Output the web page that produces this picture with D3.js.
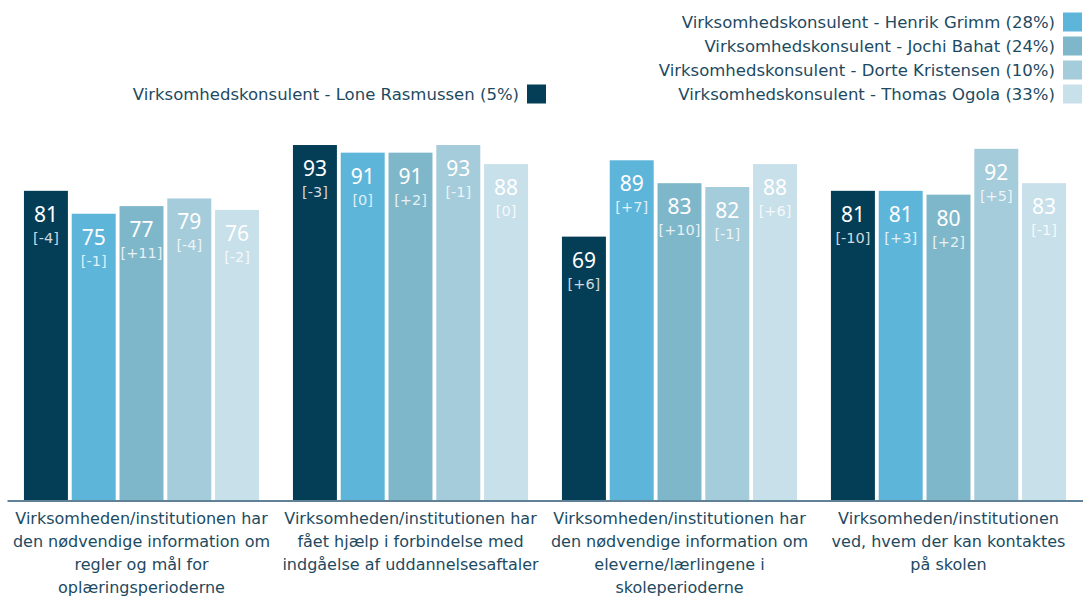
<!DOCTYPE html>
<html>
<head>
<meta charset="utf-8">
<script src="https://cdn.jsdelivr.net/npm/d3@7"></script>
<style>
  body { margin: 0; background: #fff; }
  svg { display: block; font-family: "DejaVu Sans", "Noto Sans", sans-serif; }
</style>
</head>
<body>
<svg id="chart"></svg>
<script>
var width = 1083, height = 596;

// categories (wrapped into lines as in the picture)
var categories = ["q1", "q2", "q3", "q4"];
var category_lines = [
    ["Virksomheden/institutionen har", "den nødvendige information om", "regler og mål for", "oplæringsperioderne"],
    ["Virksomheden/institutionen har", "fået hjælp i forbindelse med", "indgåelse af uddannelsesaftaler"],
    ["Virksomheden/institutionen har", "den nødvendige information om", "eleverne/lærlingene i", "skoleperioderne"],
    ["Virksomheden/institutionen", "ved, hvem der kan kontaktes", "på skolen"]
];

var series = [
    "Virksomhedskonsulent - Lone Rasmussen (5%)",
    "Virksomhedskonsulent - Henrik Grimm (28%)",
    "Virksomhedskonsulent - Jochi Bahat (24%)",
    "Virksomhedskonsulent - Dorte Kristensen (10%)",
    "Virksomhedskonsulent - Thomas Ogola (33%)"
];
var colors = ["#043d56", "#5db5da", "#7fb7ca", "#a5ccda", "#c8e0ea"];

// values per series, one per category
var v_lone   = [81, 93, 69, 81];
var v_henrik = [75, 91, 89, 81];
var v_jochi  = [77, 91, 83, 80];
var v_dorte  = [79, 93, 82, 92];
var v_thomas = [76, 88, 88, 83];

// change vs. last time
var d_lone   = ["-4", "-3", "+6", "-10"];
var d_henrik = ["-1", "0", "+7", "+3"];
var d_jochi  = ["+11", "+2", "+10", "+2"];
var d_dorte  = ["-4", "-1", "-1", "+5"];
var d_thomas = ["-2", "0", "+6", "-1"];

var values = [v_lone, v_henrik, v_jochi, v_dorte, v_thomas];
var deltas = [d_lone, d_henrik, d_jochi, d_dorte, d_thomas];

var data = [];
categories.forEach(function(c, ci) {
    series.forEach(function(s, si) {
        data.push({cat: c, ser: s, val: values[si][ci], delta: deltas[si][ci], color: colors[si]});
    });
});

var svg = d3.select("#chart")
    .attr("width", width)
    .attr("height", height);

// scales
var x0 = d3.scaleBand()
    .domain(categories)
    .range([7, 1083])
    .paddingInner(0.126)
    .paddingOuter(0.063);

var x1 = d3.scaleBand()
    .domain(series)
    .range([0, x0.bandwidth()])
    .paddingInner(0.08);

var y = d3.scaleLinear()
    .domain([0, 100])
    .range([500, 118.3]);

// bars
var bars = svg.append("g")
    .selectAll("g.bar")
    .data(data)
    .enter()
    .append("g")
    .attr("class", "bar")
    .attr("transform", function(d) { return `translate(${x0(d.cat) + x1(d.ser)}, 0)`; });

bars.append("rect")
    .attr("x", 0)
    .attr("y", function(d) { return y(d.val); })
    .attr("width", x1.bandwidth())
    .attr("height", function(d) { return y(0) - y(d.val); })
    .attr("fill", function(d) { return d.color; });

bars.append("text")
    .attr("x", x1.bandwidth() / 2)
    .attr("y", function(d) { return y(d.val) + 31; })
    .attr("text-anchor", "middle")
    .style("font-family", "'Noto Sans', sans-serif")
    .style("font-size", "21px")
    .style("fill", "#fff")
    .text(function(d) { return d.val; });

bars.append("text")
    .attr("x", x1.bandwidth() / 2)
    .attr("y", function(d) { return y(d.val) + 52; })
    .attr("text-anchor", "middle")
    .style("font-size", "14.5px")
    .style("fill", "#fff")
    .style("fill-opacity", 0.82)
    .text(function(d) { return "[" + d.delta + "]"; });

// x axis (line only), labels added below
var xAxis = svg.append("g")
    .attr("transform", `translate(0, ${y(0) + 0.5})`)
    .call(d3.axisBottom(x0).tickSize(0).tickFormat(""));
xAxis.select(".domain")
    .attr("stroke", "#2b5775")
    .attr("stroke-width", 1.5);

var labels = svg.append("g")
    .selectAll("text.cat")
    .data(categories)
    .enter()
    .append("text")
    .attr("class", "cat")
    .attr("text-anchor", "middle")
    .style("font-size", "16px")
    .style("fill", "#1d4a61")
    .attr("transform", function(d) { return `translate(${x0(d) + x0.bandwidth() / 2}, 524)`; });

labels.selectAll("tspan")
    .data(function(d, i) { return category_lines[i]; })
    .enter()
    .append("tspan")
    .attr("x", 0)
    .attr("y", function(d, i) { return i * 23; })
    .text(function(d) { return d; });

// legend: Lone on the left, the others stacked on the right
var legend_pos = [
    {x: 546, y: 94},
    {x: 1082, y: 22},
    {x: 1082, y: 46},
    {x: 1082, y: 70},
    {x: 1082, y: 94}
];

var legend = svg.append("g")
    .selectAll("g.legend")
    .data(series)
    .enter()
    .append("g")
    .attr("class", "legend")
    .attr("transform", function(d, i) { return `translate(${legend_pos[i].x}, ${legend_pos[i].y})`; });

legend.append("rect")
    .attr("x", -19)
    .attr("y", -9.5)
    .attr("width", 19)
    .attr("height", 19)
    .attr("fill", function(d, i) { return colors[i]; });

legend.append("text")
    .attr("x", -27)
    .attr("y", 6)
    .attr("text-anchor", "end")
    .style("font-size", "16.5px")
    .style("fill", "#1d4a61")
    .text(function(d) { return d; });
</script>
</body>
</html>
